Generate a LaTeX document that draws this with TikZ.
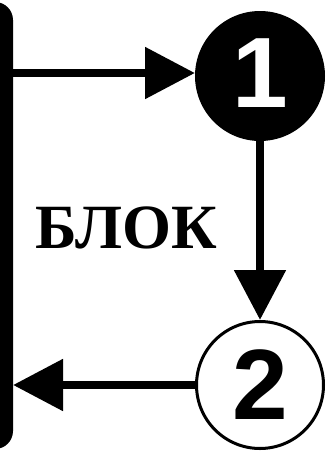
\documentclass[tikz,border=0pt]{standalone}
\usepackage{fontspec}
\setmainfont{Liberation Serif}
\newfontfamily\digitfont{Liberation Sans}
\usetikzlibrary{arrows.meta,positioning}

\begin{document}
\begin{tikzpicture}[x=1pt, y=-1pt,
  stepnum/.style={circle, draw=black, line width=3pt, minimum size=127pt,
    inner sep=0pt, font=\digitfont\bfseries\fontsize{100}{100}\selectfont},
  arr/.style={-{Triangle[length=50pt, width=50pt]}, line width=8.5pt},
  label/.style={font=\bfseries\fontsize{63}{63}\selectfont},
]
  \useasboundingbox (0,0) rectangle (327,451);
  \clip (0,0) rectangle (327,451);

  % left bar
  \fill[rounded corners=18pt] (-40,2) rectangle (13,449);
  \coordinate (barin) at (13,73);
  \coordinate (barout) at (13,385);

  \node[stepnum, fill=black, text=white] (one) at (260,76) {\raisebox{5pt}{1}};
  \node[stepnum, fill=white] (two) at (260,385) {2};
  \node[label] (blk) at (126,228) {БЛОК};

  \draw[arr] (barin) -- (barin -| one.west);
  \draw[arr] (one) -- (two);
  \draw[arr] (two.west) -- (barout);
\end{tikzpicture}
\end{document}
